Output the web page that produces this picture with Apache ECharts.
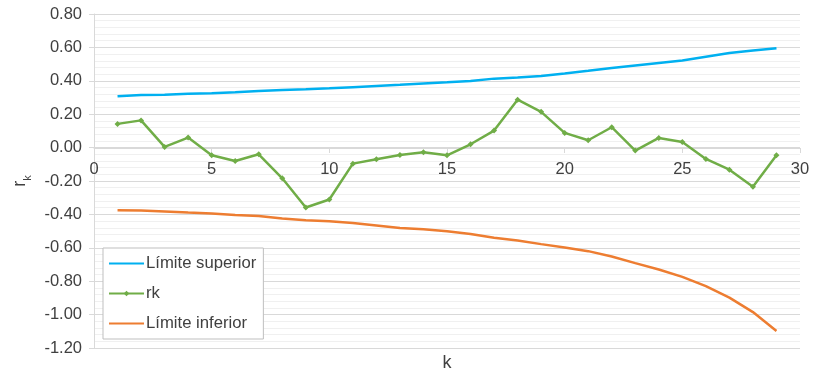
<!DOCTYPE html>
<html>
<head>
<meta charset="utf-8">
<script src="https://cdn.jsdelivr.net/npm/echarts@6/dist/echarts.min.js"></script>
<style>html,body{margin:0;padding:0;background:#fff;}#c{width:818px;height:380px;}</style>
</head>
<body>
<div id="c"></div>
<script>
var lags = [1,2,3,4,5,6,7,8,9,10,11,12,13,14,15,16,17,18,19,20,21,22,23,24,25,26,27,28,29];
var upperLimit = [0.307,0.315,0.316,0.322,0.326,0.332,0.339,0.345,0.349,0.355,0.362,0.369,0.376,0.384,0.391,0.399,0.413,0.420,0.429,0.444,0.460,0.477,0.492,0.507,0.522,0.544,0.566,0.581,0.595];
var rk = [0.142,0.163,0.004,0.060,-0.046,-0.080,-0.040,-0.184,-0.359,-0.311,-0.096,-0.070,-0.044,-0.028,-0.046,0.020,0.102,0.287,0.214,0.088,0.044,0.122,-0.018,0.058,0.034,-0.068,-0.132,-0.235,-0.046];
var lowerLimit = [-0.375,-0.376,-0.382,-0.389,-0.395,-0.403,-0.410,-0.425,-0.435,-0.441,-0.451,-0.466,-0.481,-0.489,-0.501,-0.517,-0.540,-0.556,-0.578,-0.598,-0.620,-0.652,-0.692,-0.730,-0.774,-0.830,-0.898,-0.985,-1.098];
var seriesNames = ['Límite superior','rk','Límite inferior'];

function pairs(v){ return lags.map(function(k,i){ return [k, v[i]]; }); }

var chart = echarts.init(document.getElementById('c'), null, {renderer:'canvas'});
var txt = '#404040';
chart.setOption({
  animation:false,
  textStyle:{fontFamily:'Liberation Sans, Arial, sans-serif'},
  grid:{left:94, right:18, top:14, bottom:32, outerBoundsMode:'none'},
  legend:{
    orient:'vertical', left:103, top:248,
    data:[
      {name:seriesNames[0], itemStyle:{color:'transparent', borderWidth:0}},
      {name:seriesNames[1]},
      {name:seriesNames[2], itemStyle:{color:'transparent', borderWidth:0}}
    ],
    backgroundColor:'#fff', borderColor:'#bfbfbf', borderWidth:1,
    padding:[7,7,7,5], itemGap:13, itemWidth:35, itemHeight:7,
    textStyle:{fontSize:16.7, color:txt, padding:[0,0,0,-3]}
  },
  xAxis:{
    type:'value', min:0, max:30, interval:5, position:'bottom', offset:-200,
    name:'k', nameLocation:'middle', nameGap:206,
    nameTextStyle:{fontSize:18, color:txt},
    axisLine:{onZero:false, lineStyle:{color:'#d9d9d9'}},
    axisTick:{show:true, length:5, lineStyle:{color:'#d9d9d9'}},
    axisLabel:{fontSize:16.5, color:txt, margin:13},
    splitLine:{show:false}
  },
  yAxis:{
    type:'value', min:-1.2, max:0.8, interval:0.2,
    name:'{r|r}{k|k}', nameLocation:'middle', nameGap:64, nameRotate:90,
    nameTextStyle:{rich:{r:{fontSize:18, color:txt, verticalAlign:'bottom'}, k:{fontSize:11, color:txt, verticalAlign:'bottom', padding:[0,0,-4,0]}}},
    axisLine:{show:true, onZero:false, lineStyle:{color:'#d9d9d9'}},
    axisTick:{show:true, length:5, lineStyle:{color:'#d9d9d9'}},
    axisLabel:{fontSize:16.5, color:txt, margin:12, formatter:function(v){ return v.toFixed(2); }},
    splitLine:{show:true, lineStyle:{color:'#d9d9d9', width:1}},
    minorTick:{show:false, splitNumber:5},
    minorSplitLine:{show:true, lineStyle:{color:'#f0f0f0', width:1}}
  },
  series:[
    {name:seriesNames[0], type:'line', data:pairs(upperLimit), showSymbol:false, symbol:'none',
     lineStyle:{color:'#00B0F0', width:2.5}, itemStyle:{color:'#00B0F0'}},
    {name:seriesNames[1], type:'line', data:pairs(rk), symbol:'diamond', symbolSize:6,
     lineStyle:{color:'#70AD47', width:2.5}, itemStyle:{color:'#70AD47'}},
    {name:seriesNames[2], type:'line', data:pairs(lowerLimit), showSymbol:false, symbol:'none',
     lineStyle:{color:'#ED7D31', width:2.5}, itemStyle:{color:'#ED7D31'}}
  ]
});
</script>
</body>
</html>
